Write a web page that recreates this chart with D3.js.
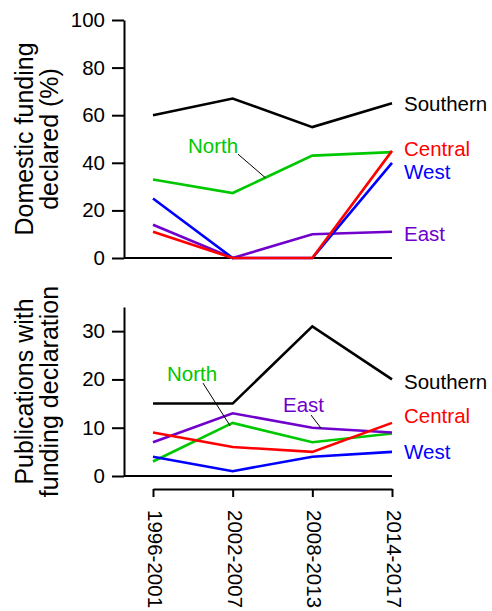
<!DOCTYPE html>
<html><head><meta charset="utf-8">
<script src="https://cdn.jsdelivr.net/npm/d3@7/dist/d3.min.js"></script>
<style>
body{margin:0;background:#fff;}
svg text{font-family:"Liberation Sans",Arial,Helvetica,sans-serif;}
</style></head>
<body><svg id="c" width="492" height="611"></svg>
<script>
const periods = ["1996-2001","2002-2007","2008-2013","2014-2017"];
const regions = ["Southern","North","East","West","Central"];
const colors = {Southern:"#000000",North:"#00c800",East:"#7000cc",West:"#0000ff",Central:"#ff0000"};

// Domestic funding declared (%)
const pctSouthern = [60,67,55,65];
const pctNorth    = [33,27.3,43,44.5];
const pctEast     = [14,0,10,11];
const pctWest     = [25,0,0,40];
const pctCentral  = [11,0,0,45];

// Publications with funding declaration
const pubSouthern = [15,15,31,20];
const pubNorth    = [3,11,7,8.8];
const pubEast     = [7,13,10,9];
const pubWest     = [4,1,4,5];
const pubCentral  = [9,6,5,11];

const topTicks = [0,20,40,60,80,100];
const botTicks = [0,10,20,30];

const svg = d3.select("#c");
const FS = 20.5, TFS = 25;

const x = d3.scalePoint().domain(periods).range([153,392]);
const yTop = d3.scaleLinear().domain([0,100]).range([258,20]);
const yBot = d3.scaleLinear().domain([0,35]).range([476,307]);
const axisX = 124;

const topData = {Southern:pctSouthern,North:pctNorth,East:pctEast,West:pctWest,Central:pctCentral};
const botData = {Southern:pubSouthern,North:pubNorth,East:pubEast,West:pubWest,Central:pubCentral};

function panel(y, data, ticks, title, endLabels, notes){
  const g = svg.append("g");
  const ax = g.append("g").attr("transform",`translate(${axisX},0)`)
    .call(d3.axisLeft(y).tickValues(ticks).tickSize(12).tickSizeOuter(0).tickPadding(7));
  ax.select(".domain").attr("stroke","#000").attr("stroke-width",2);
  ax.selectAll(".tick line").attr("stroke","#000").attr("stroke-width",2);
  ax.selectAll(".tick text").attr("font-size",FS).attr("fill","#000")
    .attr("font-family","Liberation Sans, Arial, sans-serif");
  g.append("line").attr("x1",axisX).attr("x2",x(periods[periods.length-1]))
    .attr("y1",y(0)).attr("y2",y(0)).attr("stroke","#000").attr("stroke-width",2);
  const line = d3.line().x((d,i)=>x(periods[i])).y(d=>y(d));
  regions.forEach(r=>{
    g.append("path").datum(data[r]).attr("d",line).attr("fill","none")
      .attr("stroke",colors[r]).attr("stroke-width",2.6).attr("stroke-linejoin","miter");
  });
  endLabels.forEach(([r,v])=>{
    g.append("text").attr("x",x(periods[3])+12).attr("y",y(v)).attr("dy","0.36em")
      .attr("font-size",FS).attr("fill",colors[r]).text(r);
  });
  notes.forEach(n=>{
    g.append("line").attr("x1",n.lx1).attr("y1",n.ly1).attr("x2",n.lx2).attr("y2",n.ly2)
      .attr("stroke","#000").attr("stroke-width",1);
    g.append("text").attr("x",n.tx).attr("y",n.ty).attr("font-size",FS)
      .attr("fill",colors[n.r]).text(n.r);
  });
  const [y0,y1] = y.range();
  const cy = (y0+y1)/2;
  const t = g.append("text").attr("transform",`translate(33,${cy}) rotate(-90)`)
    .attr("text-anchor","middle").attr("font-size",TFS).attr("fill","#000");
  t.append("tspan").attr("x",0).attr("dy",0).text(title[0]);
  t.append("tspan").attr("x",0).attr("dy",TFS).text(title[1]);
}

const nTopA = [x(periods[1]), yTop(pctNorth[1])], nTopB = [x(periods[2]), yTop(pctNorth[2])];
const fT = 0.41;
panel(yTop, topData, topTicks, ["Domestic funding","declared (%)"],
  [["Southern",65],["Central",46],["West",36.3],["East",10.2]],
  [{r:"North", tx:188, ty:yTop(47)+7,
    lx1:238, ly1:yTop(47)+8,
    lx2:nTopA[0]+(nTopB[0]-nTopA[0])*fT, ly2:nTopA[1]+(nTopB[1]-nTopA[1])*fT}]);

const eA=[x(periods[2]),yBot(pubEast[2])], eB=[x(periods[3]),yBot(pubEast[3])];
panel(yBot, botData, botTicks, ["Publications with","funding declaration"],
  [["Southern",19.6],["Central",12.5],["West",5.1]],
  [{r:"North", tx:167, ty:yBot(21)+6.5, lx1:203, ly1:yBot(21)+8.5,
    lx2:x(periods[1])-2.5, ly2:yBot(pubNorth[1])+3},
   {r:"East", tx:283, ty:yBot(14.8)+7, lx1:311, ly1:yBot(14.8)+10.5,
    lx2:eA[0]+(eB[0]-eA[0])*0.11, ly2:eA[1]+(eB[1]-eA[1])*0.11}]);

const xa = svg.append("g").attr("transform","translate(0,489)")
  .call(d3.axisBottom(x).tickSize(8).tickSizeOuter(0));
xa.select(".domain").attr("stroke","#000").attr("stroke-width",2);
xa.selectAll(".tick line").attr("stroke","#000").attr("stroke-width",2);
xa.selectAll(".tick text").remove();
xa.selectAll(".tick").append("text")
  .attr("transform","translate(2,21) rotate(90)")
  .attr("text-anchor","start").attr("dy","0.36em")
  .attr("font-size",FS).attr("fill","#000")
  .attr("font-family","Liberation Sans, Arial, sans-serif")
  .text(d=>d);
</script></body></html>
